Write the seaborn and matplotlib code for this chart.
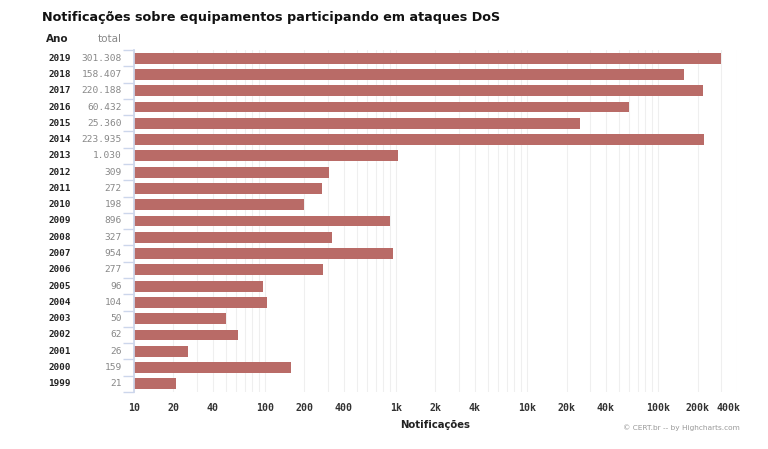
import numpy as np
import pandas as pd
import seaborn as sns
import matplotlib.pyplot as plt
import matplotlib.ticker as ticker
import matplotlib.transforms as mtransforms

anos = ["2019", "2018", "2017", "2016", "2015", "2014", "2013", "2012", "2011", "2010",
        "2009", "2008", "2007", "2006", "2005", "2004", "2003", "2002", "2001", "2000", "1999"]
totais = [301308, 158407, 220188, 60432, 25360, 223935, 1030, 309, 272, 198,
          896, 327, 954, 277, 96, 104, 50, 62, 26, 159, 21]
xticks = [10, 20, 40, 100, 200, 400, 1000, 2000, 4000, 10000, 20000, 40000, 100000, 200000, 400000]
xticklabels = ["10", "20", "40", "100", "200", "400", "1k", "2k", "4k", "10k", "20k", "40k",
               "100k", "200k", "400k"]

df = pd.DataFrame({"ano": anos, "total": totais})

sns.set_theme(style="white")
plt.rcParams['font.family'] = ['DejaVu Sans']

fig = plt.figure(figsize=(7.68, 4.49), dpi=100)
ax = fig.add_axes([0.1745, 0.127, 0.7851, 0.7616])
ax.set_xscale("log")

sns.barplot(data=df, x="total", y="ano", order=anos, color="#b96b67", saturation=1,
            width=0.66, linewidth=0, ax=ax, orient="h")

ax.set_xlim(10, 400000)
ax.set_ylim(len(anos) - 0.5, -0.5)
ax.xaxis.set_major_locator(ticker.FixedLocator(xticks))
ax.xaxis.set_major_formatter(ticker.FixedFormatter(xticklabels))
ax.xaxis.set_minor_locator(ticker.LogLocator(base=10, subs=np.arange(2, 10)))
ax.xaxis.set_minor_formatter(ticker.NullFormatter())
ax.grid(True, which="both", axis="x", color="#efefef", linewidth=0.8)
ax.set_axisbelow(True)
ax.tick_params(axis="x", which="both", length=0, pad=8, labelsize=7.1, labelcolor="#333333")
xlabs = ax.get_xticklabels()
for lab in xlabs:
    lab.set_fontfamily("DejaVu Sans Mono")
    lab.set_fontweight("bold")
# o último rótulo fica dentro da área do gráfico
xlabs[-1].set_transform(xlabs[-1].get_transform() +
                        mtransforms.ScaledTranslation(-8 / 100, 0, fig.dpi_scale_trans))

ax.set_yticks(range(len(anos)))
ax.set_yticklabels([])
ax.yaxis.set_minor_locator(ticker.FixedLocator(np.arange(-0.5, len(anos), 1)))
ax.tick_params(axis="y", which="major", left=False, length=0)
ax.tick_params(axis="y", which="minor", left=True, length=8, color="#ccd6eb", width=1)

for s in ["top", "right", "bottom"]:
    ax.spines[s].set_visible(False)
ax.spines["left"].set_color("#ccd6eb")

ax.set_xlabel("Notificações", fontsize=7.3, fontweight="bold", color="#222222", labelpad=5)
ax.set_ylabel("")

trans = mtransforms.blended_transform_factory(fig.transFigure, ax.transData)
for i, (a, t) in enumerate(zip(anos, totais)):
    ax.text(71 / 768, i, a, transform=trans, ha="right", va="center", fontsize=6.7,
            fontfamily="DejaVu Sans Mono", fontweight="bold", color="#222222")
    ax.text(122 / 768, i, f"{t:,}".replace(",", "."), transform=trans, ha="right",
            va="center", fontsize=6.8, fontfamily="DejaVu Sans Mono", color="#888888")

fig.text(46 / 768, 1 - 39 / 449, "Ano", ha="left", va="center", fontsize=7.5,
         fontweight="bold", color="#222222")
fig.text(122 / 768, 1 - 39 / 449, "total", ha="right", va="center", fontsize=7.5,
         color="#888888")

fig.text(42 / 768, 1 - 18 / 449, "Notificações sobre equipamentos participando em ataques DoS",
         ha="left", va="center", fontsize=9.2, fontweight="bold", color="#111111")
fig.text(740 / 768, 1 - 428 / 449, "© CERT.br -- by Highcharts.com", ha="right", va="center",
         fontsize=5.3, color="#999999")

fig.savefig("out.png", dpi=100)
